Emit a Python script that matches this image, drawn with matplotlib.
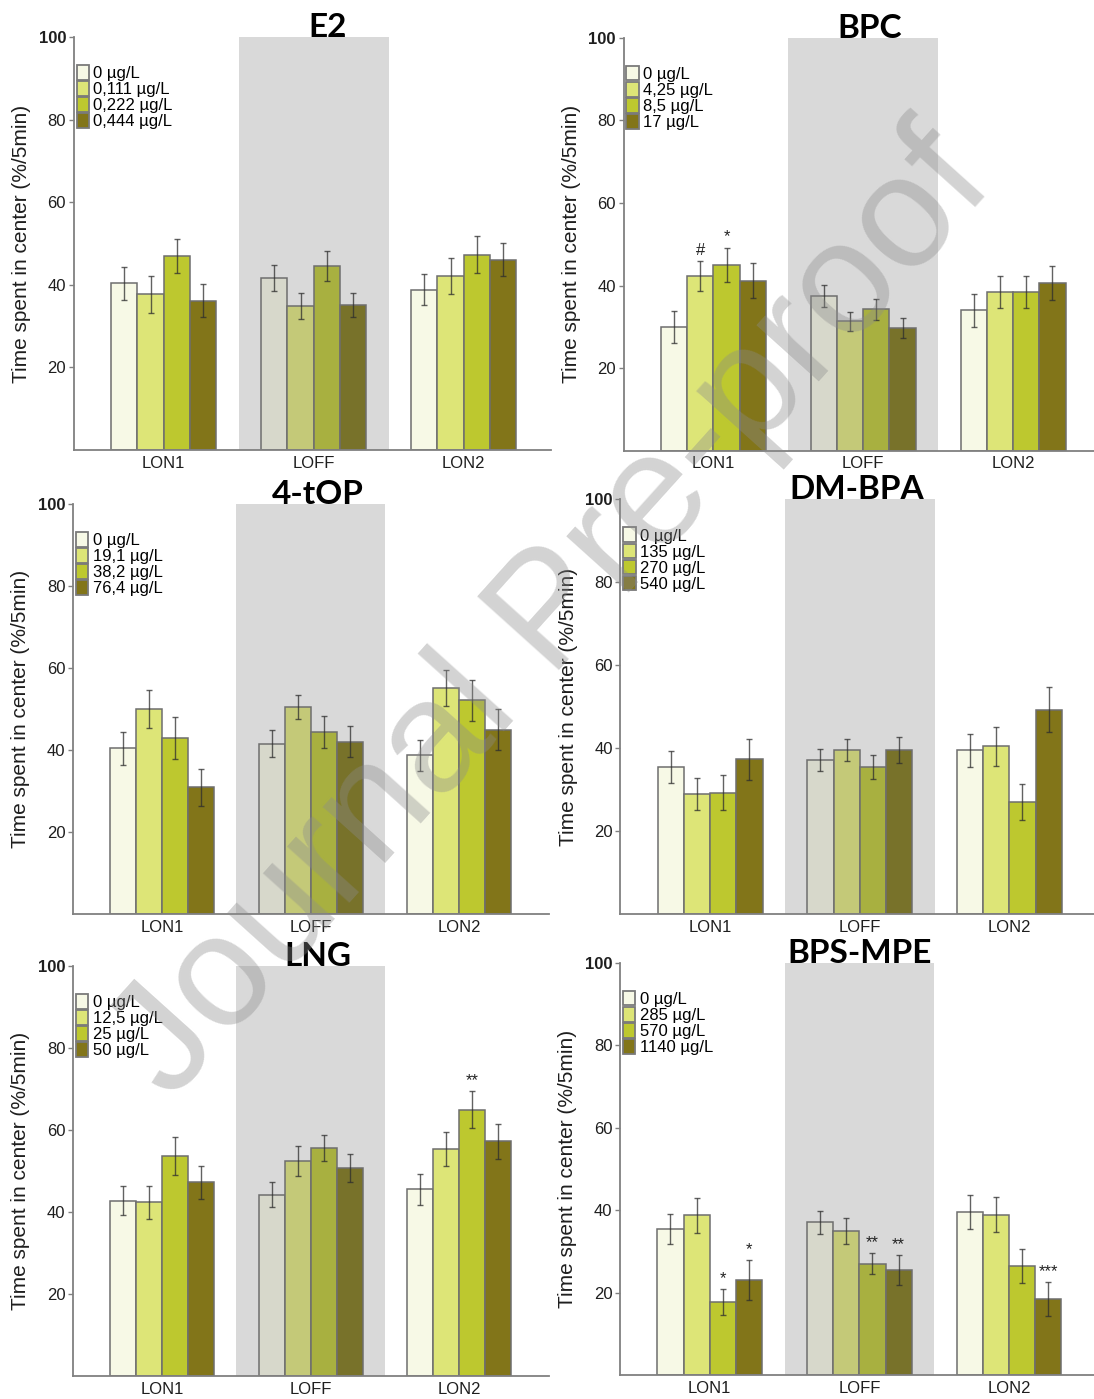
import matplotlib
matplotlib.use("Agg")
import matplotlib.pyplot as plt
from matplotlib.patches import Patch
import numpy as np

plt.rcParams['font.family'] = ['Liberation Sans', 'DejaVu Sans']

groups = ['LON1', 'LOFF', 'LON2']

titles = ['E2', 'BPC', '4-tOP', 'DM-BPA', 'LNG', 'BPS-MPE']

doses = [
    ['0 µg/L', '0,111 µg/L', '0,222 µg/L', '0,444 µg/L'],
    ['0 µg/L', '4,25 µg/L', '8,5 µg/L', '17 µg/L'],
    ['0 µg/L', '19,1 µg/L', '38,2 µg/L', '76,4 µg/L'],
    ['0 µg/L', '135 µg/L', '270 µg/L', '540 µg/L'],
    ['0 µg/L', '12,5 µg/L', '25 µg/L', '50 µg/L'],
    ['0 µg/L', '285 µg/L', '570 µg/L', '1140 µg/L'],
]

# mean per group (rows: LON1, LOFF, LON2; cols: dose)
e2_mean = [[40.4, 37.7, 46.9, 36.1], [41.7, 34.9, 44.5, 35.1], [38.8, 42.2, 47.3, 46.1]]
e2_err = [[4.0, 4.5, 4.1, 4.0], [3.1, 3.2, 3.7, 2.8], [3.8, 4.4, 4.5, 4.0]]
bpc_mean = [[29.9, 42.3, 45.0, 41.2], [37.5, 31.3, 34.2, 29.7], [34.0, 38.5, 38.5, 40.7]]
bpc_err = [[3.9, 3.7, 4.2, 4.2], [2.7, 2.2, 2.5, 2.4], [4.0, 3.9, 3.9, 4.1]]
top_mean = [[40.4, 50.0, 43.0, 30.9], [41.6, 50.6, 44.5, 42.1], [38.7, 55.2, 52.2, 45.0]]
top_err = [[4.1, 4.7, 5.2, 4.6], [3.2, 2.9, 3.9, 3.8], [3.8, 4.4, 5.0, 5.0]]
dmbpa_mean = [[35.5, 28.9, 29.2, 37.3], [37.1, 39.5, 35.5, 39.5], [39.5, 40.5, 27.0, 49.3]]
dmbpa_err = [[3.8, 3.8, 4.2, 4.9], [2.7, 2.6, 2.9, 3.2], [4.0, 4.7, 4.3, 5.5]]
lng_mean = [[42.8, 42.4, 53.7, 47.2], [44.2, 52.4, 55.7, 50.7], [45.5, 55.3, 65.0, 57.2]]
lng_err = [[3.5, 4.0, 4.6, 4.1], [3.1, 3.6, 3.2, 3.4], [3.7, 4.1, 4.6, 4.3]]
bps_mean = [[35.4, 38.7, 17.7, 23.0], [37.0, 34.9, 27.0, 25.5], [39.5, 38.9, 26.5, 18.4]]
bps_err = [[3.7, 4.2, 3.1, 4.8], [2.7, 3.2, 2.6, 3.7], [4.1, 4.2, 4.1, 4.2]]

means = [e2_mean, bpc_mean, top_mean, dmbpa_mean, lng_mean, bps_mean]
errs = [e2_err, bpc_err, top_err, dmbpa_err, lng_err, bps_err]

# significance marks: (group, dose, mark)
marks = [
    [],
    [(0, 1, '#'), (0, 2, '*')],
    [],
    [],
    [(2, 2, '**')],
    [(0, 2, '*'), (0, 3, '*'), (1, 2, '**'), (1, 3, '**'), (2, 3, '***')],
]

yticks = [20, 40, 60, 80, 100]

col_on = ['#F7F9E6', '#DDE577', '#BDC82F', '#827519']
col_off = ['#D7D8CB', '#C4C978', '#A8B040', '#78722A']

W, H = 1094, 1399
# axes boxes in pixels: left, top, right, bottom, px per group
boxes = [
    (73.7, 37, 551, 450, 150),
    (623.6, 37.7, 1094, 450.7, 149.8),
    (73, 504.3, 548.5, 914, 148.6),
    (620.4, 499.3, 1094, 914, 149.6),
    (73, 966, 548.5, 1376, 148.6),
    (620, 962.7, 1094, 1375, 149.6),
]
title_x = [1.095, 1.045, 1.05, 0.98, 1.045, 1.0]

fig = plt.figure(figsize=(W / 100, H / 100), dpi=100)

bw = 0.175
offs = (np.arange(4) - 1.5) * bw
x = np.arange(3)

for i in range(6):
    l, t, r, b, sp = boxes[i]
    ax = fig.add_axes([l / W, 1 - b / H, (r - l) / W, (b - t) / H])
    xr = -0.6 + (r - l) / sp
    ax.axvspan(0.5, 1.5, color='#D9D9D9', zorder=0, lw=0)
    m = np.array(means[i])
    e = np.array(errs[i])
    for j in range(4):
        fc = [col_off[j] if g == 1 else col_on[j] for g in range(3)]
        ax.bar(x + offs[j], m[:, j], bw, color=fc, edgecolor='#6E6E6E',
               linewidth=1.1, zorder=2)
        ax.errorbar(x + offs[j], m[:, j], yerr=e[:, j], fmt='none',
                    ecolor='#2E2E2E', alpha=0.75, elinewidth=1, capsize=2.2,
                    capthick=1, zorder=3)
    for g, j, s in marks[i]:
        ax.text(x[g] + offs[j], m[g, j] + e[g, j] + 0.7, s, ha='center',
                va='bottom', fontsize=12, color='#222222', zorder=4)
    ax.set_xlim(-0.6, xr)
    ax.set_ylim(0, 100)
    ax.set_xticks(x)
    ax.set_xticklabels(groups)
    ax.set_yticks(yticks)
    ax.set_yticklabels([str(v) for v in yticks])
    ax.get_yticklabels()[-1].set_fontweight('bold')
    ax.tick_params(axis='x', length=0, pad=4, labelsize=12, labelcolor='#1E1E1E')
    ax.tick_params(axis='y', length=3.5, width=1, color='#808080', pad=2,
                   labelsize=12, labelcolor='#1E1E1E')
    for s in ['top', 'right']:
        ax.spines[s].set_visible(False)
    for s in ['left', 'bottom']:
        ax.spines[s].set_color('#808080')
        ax.spines[s].set_linewidth(1.3)
    ax.set_ylabel('Time spent in center (%/5min)', fontsize=15, color='#1E1E1E')
    ax.yaxis.set_label_coords(-0.09, 0.5)
    ax.text(title_x[i], 100, titles[i], ha='center', va='baseline',
            fontsize=24, fontweight='bold', family='Lato',
            transform=ax.transData, zorder=5)
    handles = [Patch(facecolor=col_on[j], edgecolor='#7A7A7A', linewidth=1.3)
               for j in range(4)]
    ax.legend(handles, doses[i], loc='upper left', bbox_to_anchor=(0.006, 0.932),
              frameon=False, fontsize=12, handlelength=0.75, handleheight=0.98,
              handletextpad=0.25, labelspacing=0.0, borderpad=0, borderaxespad=0)

fig.text(0.505, 0.56, 'Journal Pre-proof', fontsize=115, color='#8C8C8C',
         alpha=0.38, rotation=48, ha='center', va='center', zorder=10)

fig.savefig('out.png', dpi=100)
